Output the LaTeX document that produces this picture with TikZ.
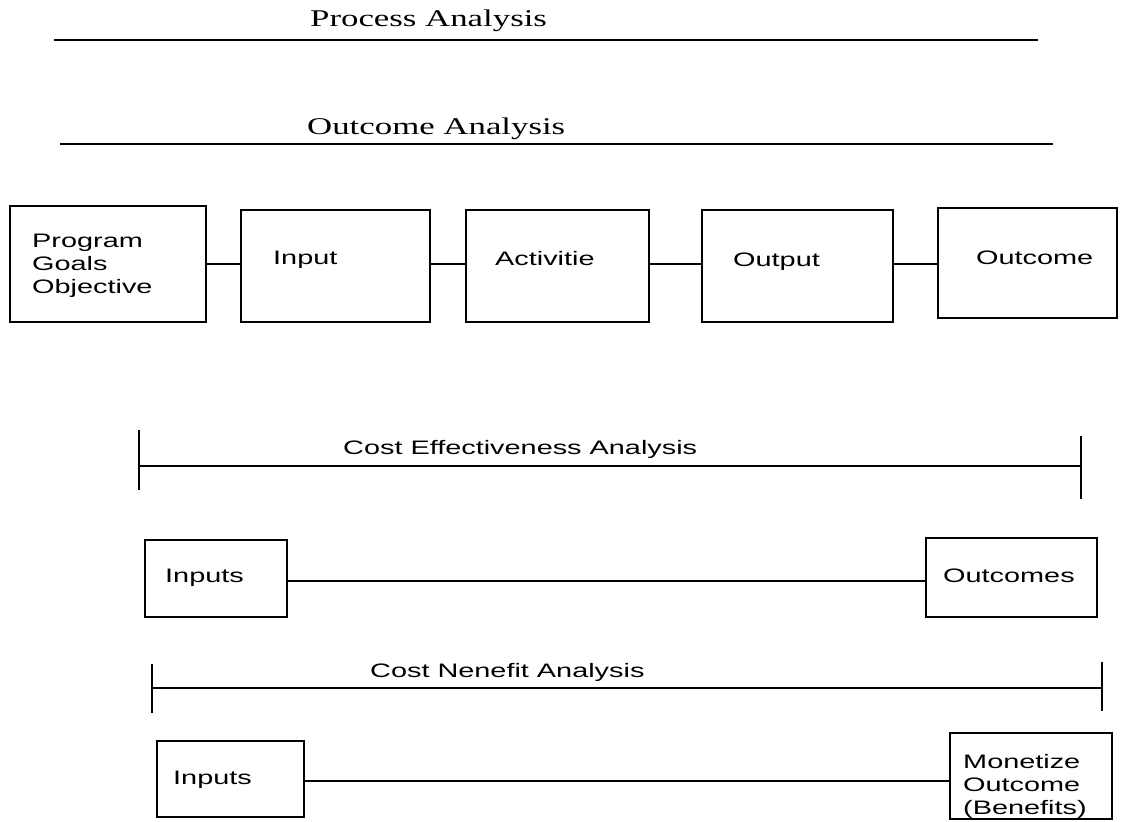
\documentclass[tikz,border=0pt]{standalone}
\usepackage{fontspec}
\newfontfamily\boxfont[FakeStretch=1.48]{Liberation Sans}
\newfontfamily\headfont[FakeStretch=1.45]{Liberation Serif}
\begin{document}
\begin{tikzpicture}[x=1pt,y=-1pt,
  box/.style={draw,line width=2.3pt,inner sep=0pt},
  boxtext/.style={font=\boxfont\fontsize{19.5}{23}\selectfont,inner sep=0pt,anchor=base west,align=left},
  headtext/.style={font=\headfont\fontsize{24}{28}\selectfont,inner sep=0pt,anchor=base west},
  link/.style={line width=1.8pt},
  rule/.style={line width=2.3pt}]
\useasboundingbox (0,0) rectangle (1130,822);

% headings
\node[headtext] (proc) at (310,26) {Process Analysis};
\draw[rule] (54,40) -- (1038,40);
\node[headtext] (outc) at (307,134) {Outcome Analysis};
\draw[rule] (60,144) -- (1053,144);

% logic model chain
\node[box,minimum width=196pt,minimum height=116pt] (goals) at (108,264) {};
\node[box,minimum width=189pt,minimum height=112pt] (input) at (335.5,266) {};
\node[box,minimum width=183pt,minimum height=112pt] (activity) at (557.5,266) {};
\node[box,minimum width=191pt,minimum height=112pt] (output) at (797.5,266) {};
\node[box,minimum width=179pt,minimum height=110pt] (outcome) at (1027.5,263) {};

% base of a multi-line node is its last line
\node[boxtext] (goalstext) at (32,293) {Program\\Goals\\Objective};
\node[boxtext] (inputtext) at (273,264) {Input};
\node[boxtext] (activitytext) at (495,265) {Activitie};
\node[boxtext] (outputtext) at (733,266) {Output};
\node[boxtext] (outcometext) at (976,264) {Outcome};

\draw[link] (goals.east) -- (input.west |- goals.east);
\draw[link] ([yshift=2pt]input.east) -- ([yshift=2pt]input.east -| activity.west);
\draw[link] ([yshift=2pt]activity.east) -- ([yshift=2pt]activity.east -| output.west);
\draw[link] ([yshift=2pt]output.east) -- ([yshift=2pt]output.east -| outcome.west);

% cost effectiveness
\draw[rule] (139,430) -- (139,490);
\draw[rule] (1081,436) -- (1081,499);
\draw[link] (139,466) -- (1081,466);
\node[boxtext] (celabel) at (343,454) {Cost Effectiveness Analysis};

\node[box,minimum width=142pt,minimum height=77pt] (ceinputs) at (216,578.5) {};
\node[box,minimum width=171pt,minimum height=79pt] (ceoutcomes) at (1011.5,577.5) {};
\node[boxtext] (ceinputstext) at (165,582) {Inputs};
\node[boxtext] (ceoutcomestext) at (943,582) {Outcomes};
\draw[link] ([yshift=-2.5pt]ceinputs.east) -- ([yshift=-2.5pt]ceinputs.east -| ceoutcomes.west);

% cost benefit
\draw[rule] (152,664) -- (152,713);
\draw[rule] (1102,662) -- (1102,711);
\draw[link] (152,688) -- (1102,688);
\node[boxtext] (cblabel) at (370,677) {Cost Nenefit Analysis};

\node[box,minimum width=147pt,minimum height=76pt] (cbinputs) at (230.5,779) {};
\node[box,minimum width=162pt,minimum height=86pt] (cbmoney) at (1031,776) {};
\node[boxtext] (cbinputstext) at (173,784) {Inputs};
\node[boxtext] (cbmoneytext) at (963,814) {Monetize\\Outcome\\(Benefits)};
\draw[link] ([yshift=-2pt]cbinputs.east) -- ([yshift=-2pt]cbinputs.east -| cbmoney.west);
\end{tikzpicture}
\end{document}
